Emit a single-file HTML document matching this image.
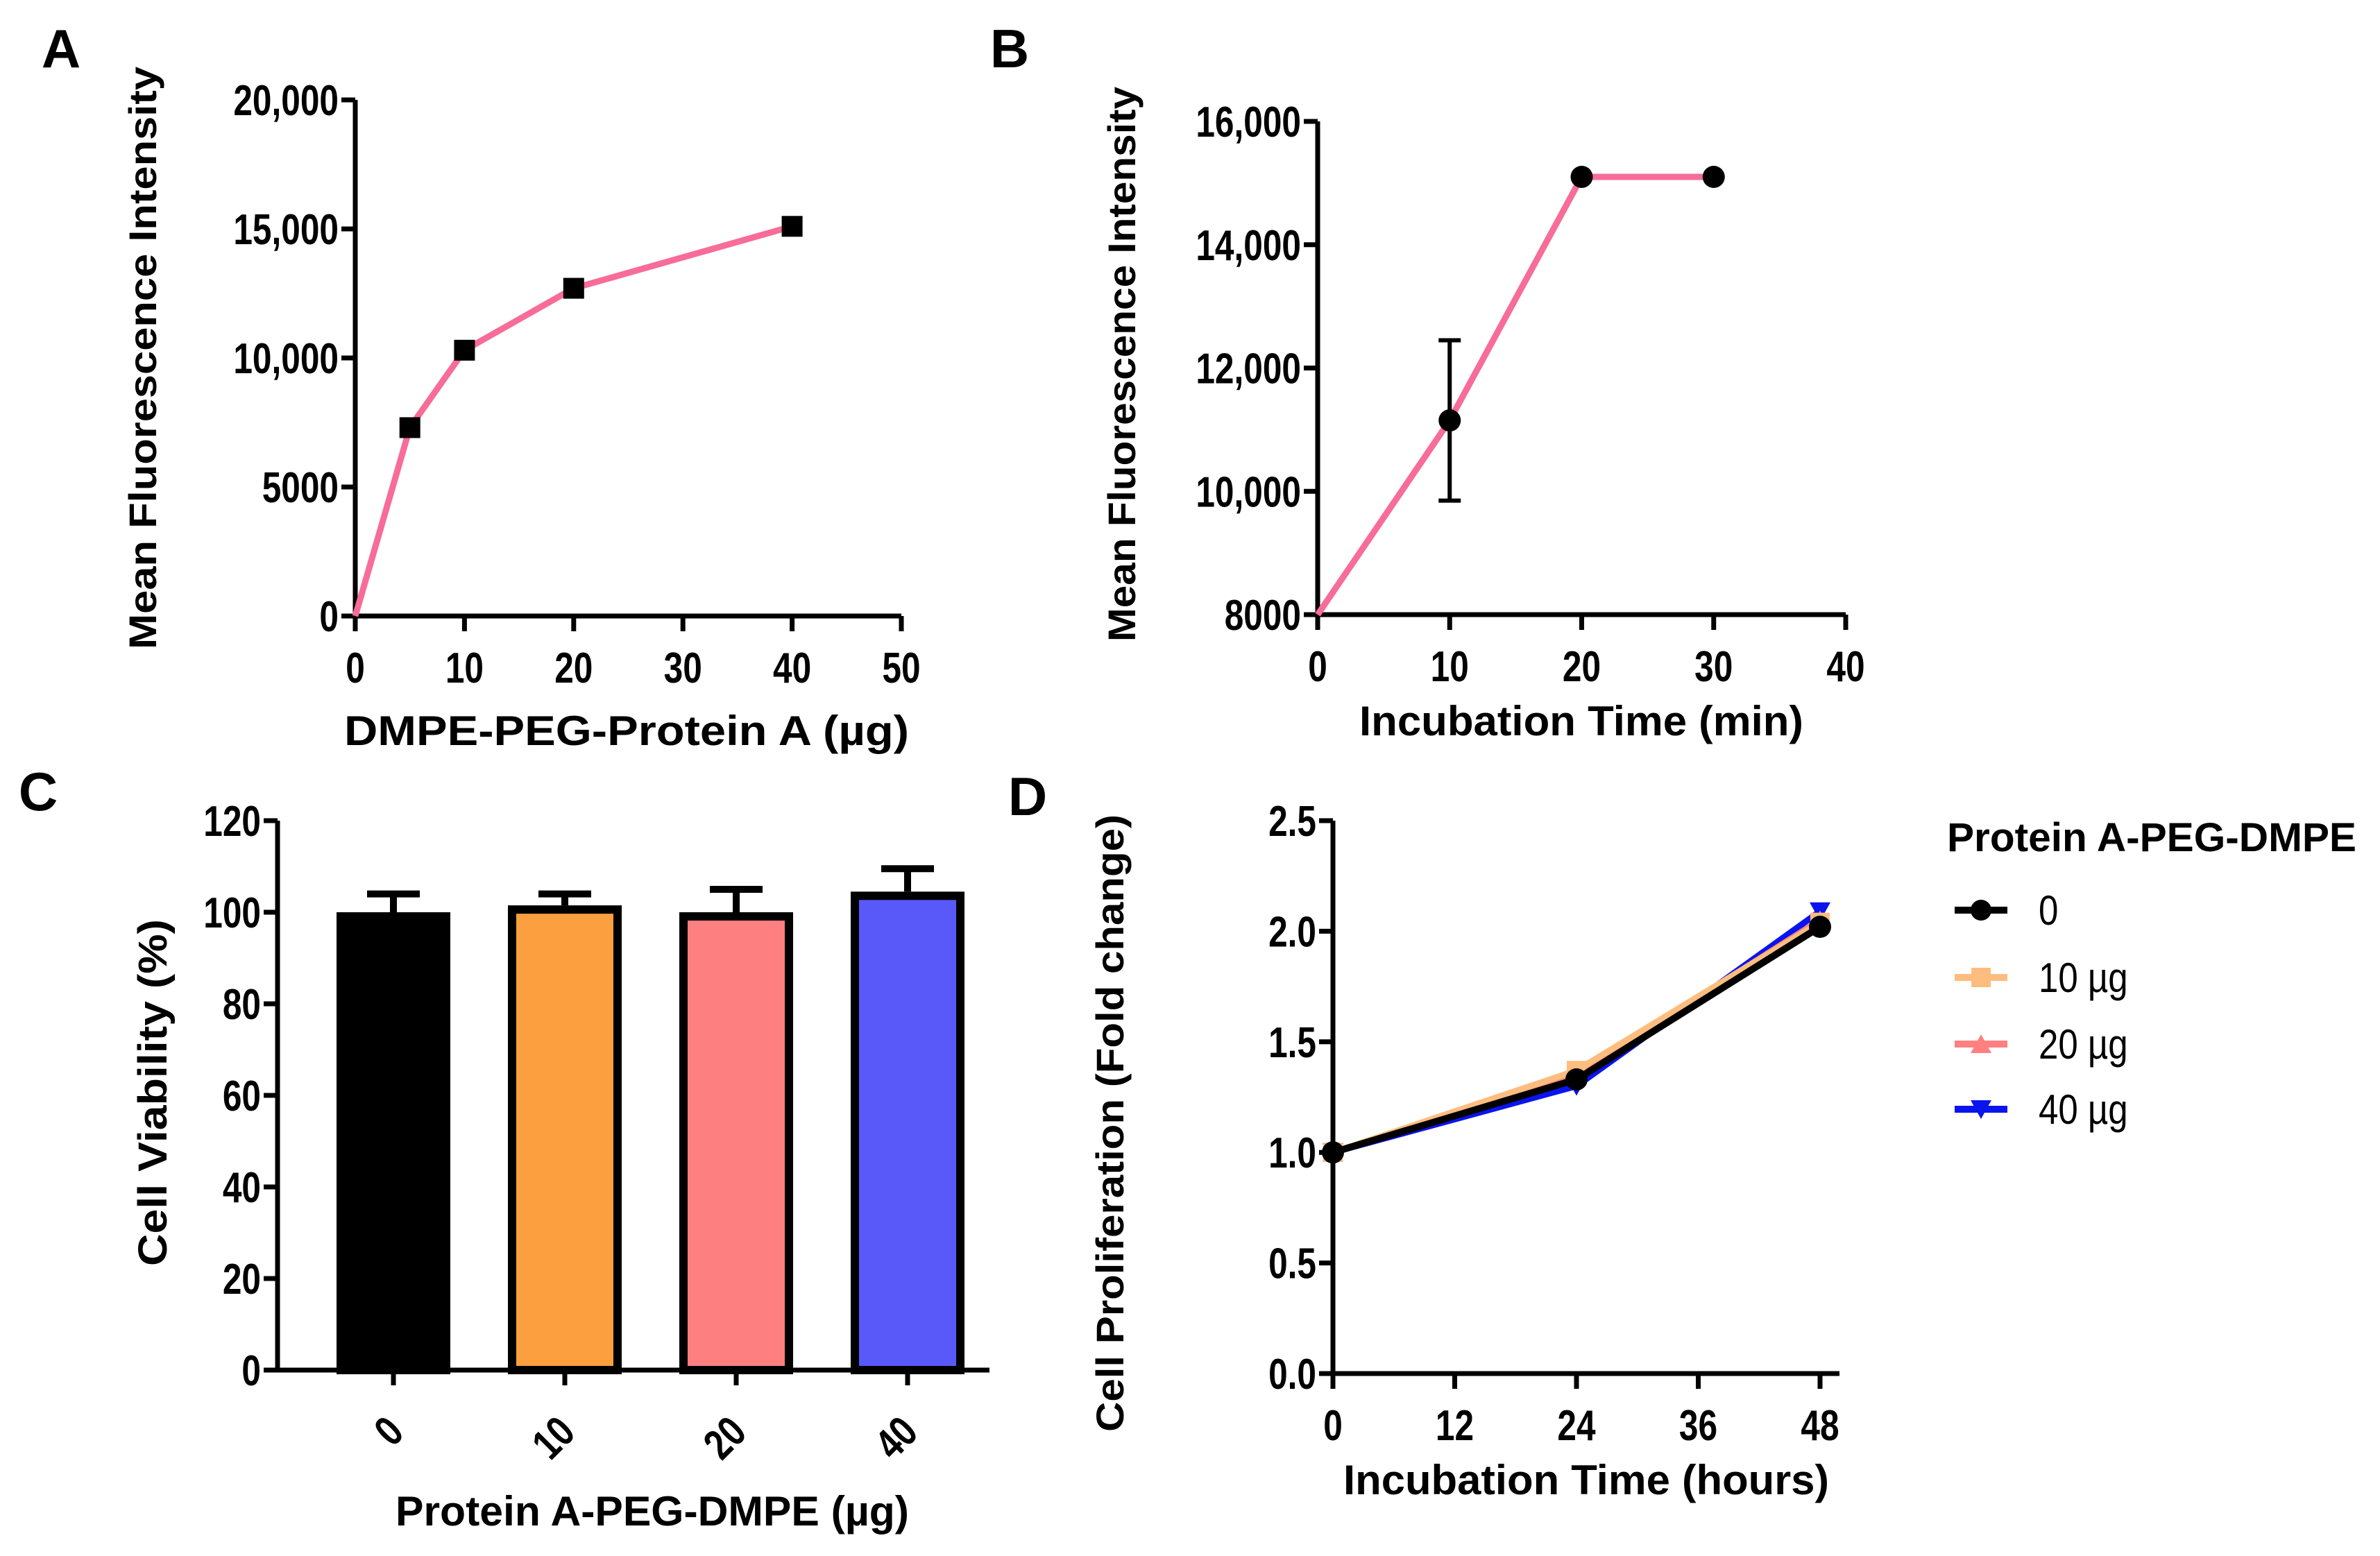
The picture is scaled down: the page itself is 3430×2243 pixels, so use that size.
<!DOCTYPE html>
<html><head><meta charset="utf-8"><style>
html,body{margin:0;padding:0;background:#fff;}
svg{display:block;font-family:"Liberation Sans",Arial,sans-serif;font-weight:bold;}
</style></head><body>
<svg id="fig" width="3430" height="2243" viewBox="0 0 3430 2243" xmlns="http://www.w3.org/2000/svg"></svg>
<script>
// Panel A data
const aX = [0, 5, 10, 20, 40];
const aY = [0, 7300, 10300, 12700, 15100];
const aXTicks = [0, 10, 20, 30, 40, 50];
const aYTicks = [0, 5000, 10000, 15000, 20000];
const aYTickLabels = ["0", "5000", "10,000", "15,000", "20,000"];
// Panel B data
const bX = [0, 10, 20, 30];
const bY = [8000, 11150, 15100, 15100];
const bErr = [0, 1300, 0, 0];
const bMarkers = [false, true, true, true];
const bXTicks = [0, 10, 20, 30, 40];
const bYTicks = [8000, 10000, 12000, 14000, 16000];
const bYTickLabels = ["8000", "10,000", "12,000", "14,000", "16,000"];
// Panel C data
const cCats = ["0", "10", "20", "40"];
const cVals = [100, 101.5, 100, 104.5];
const cErr = [4, 2.5, 5, 5];
const cColors = ["#000000", "#fb9f3f", "#fe7f7f", "#5959f9"];
const cYTicks = [0, 20, 40, 60, 80, 100, 120];
// Panel D data
const dX = [0, 24, 48];
const dSeriesNames = ["0", "10 µg", "20 µg", "40 µg"];
const dS0 = [1.0, 1.33, 2.02];
const dS10 = [1.0, 1.37, 2.04];
const dS20 = [1.0, 1.35, 2.05];
const dS40 = [1.0, 1.30, 2.09];
const dXTicks = [0, 12, 24, 36, 48];
const dYTicks = [0, 0.5, 1.0, 1.5, 2.0, 2.5];
const dYTickLabels = ["0.0", "0.5", "1.0", "1.5", "2.0", "2.5"];

const NS = "http://www.w3.org/2000/svg";
const svg = document.getElementById("fig");
function el(tag, attrs, parent, text) {
  const e = document.createElementNS(NS, tag);
  for (const k in attrs) e.setAttribute(k, attrs[k]);
  if (text !== undefined) e.textContent = text;
  (parent || svg).appendChild(e);
  return e;
}
function lin(d0, d1, r0, r1) { return v => r0 + (v - d0) * (r1 - r0) / (d1 - d0); }
const PINK = "#f76c98";
const TICKFS = 62;
const AXW = 7;

function label(x, y, txt, size, anchor, name, rot, len) {
  const a = {x: x, y: y, "font-size": size, "text-anchor": anchor || "middle", fill: "#000"};
  if (rot) a.transform = "rotate(" + rot + " " + x + " " + y + ")";
  if (len) { a.textLength = len; a.lengthAdjust = "spacingAndGlyphs"; }
  const t = el("text", a, svg, txt);
  
  
  return t;
}
function tlabel(x, y, txt, anchor, name, rot) {
  let tf = "translate(" + x + " " + y + ")";
  if (rot) tf += " rotate(" + rot + ")";
  tf += " scale(0.8 1)";
  const t = el("text", {x: 0, y: 0, "font-size": TICKFS, "text-anchor": anchor, fill: "#000", transform: tf}, svg, txt);
  
  
  return t;
}
function axes(x0, x1, y0, y1, name) {
  const g = el("g", {});
  
  
  el("line", {x1: x0, y1: y1, x2: x0, y2: y0 + 3, stroke: "#000", "stroke-width": AXW}, g);
  el("line", {x1: x0 - 3, y1: y0, x2: x1, y2: y0, stroke: "#000", "stroke-width": AXW}, g);
  return g;
}
function yTicks(ticks, labels, sy, x0, name) {
  ticks.forEach((t, i) => {
    const y = sy(t);
    const l = el("line", {x1: x0 - 20, y1: y, x2: x0, y2: y, stroke: "#000", "stroke-width": AXW});
    
    
    tlabel(x0 - 24, y + 22, labels[i], "end", name + "-tick-label");
  });
}
function xTicks(ticks, sx, y0, name, labels) {
  ticks.forEach((t, i) => {
    const x = sx(t);
    const l = el("line", {x1: x, y1: y0, x2: x, y2: y0 + 22, stroke: "#000", "stroke-width": AXW});
    
    
    tlabel(x, y0 + 96, labels ? labels[i] : String(t), "middle", name + "-tick-label");
  });
}

// ---------- Panel A ----------
label(88, 97, "A", 78, "middle", "panel-a-letter");
{
  const sx = lin(0, 50, 512, 1299), sy = lin(0, 20000, 888, 144);
  axes(512, 1299, 888, 144, "panel-a-axes");
  yTicks(aYTicks, aYTickLabels, sy, 512, "panel-a-y");
  xTicks(aXTicks, sx, 888, "panel-a-x");
  const p = el("polyline", {points: aX.map((v, i) => sx(v) + "," + sy(aY[i])).join(" "), fill: "none", stroke: PINK, "stroke-width": 9, "stroke-linejoin": "round"});
  
  
  aX.forEach((v, i) => {
    if (i === 0) return;
    const r = el("rect", {x: sx(v) - 15, y: sy(aY[i]) - 15, width: 30, height: 30, fill: "#000"});
    
    
  });
  label(225, 516, "Mean Fluorescence Intensity", 56, "middle", "panel-a-y-axis-title", -90, 840);
  label(903, 1074, "DMPE-PEG-Protein A  (µg)", 60, "middle", "panel-a-x-axis-title", 0, 814);
}

// ---------- Panel B ----------
label(1455, 97, "B", 78, "middle", "panel-b-letter");
{
  const sx = lin(0, 40, 1899, 2660), sy = lin(8000, 16000, 886, 175);
  axes(1899, 2660, 886, 175, "panel-b-axes");
  yTicks(bYTicks, bYTickLabels, sy, 1899, "panel-b-y");
  xTicks(bXTicks, sx, 886, "panel-b-x");
  const p = el("polyline", {points: bX.map((v, i) => sx(v) + "," + sy(bY[i])).join(" "), fill: "none", stroke: PINK, "stroke-width": 9, "stroke-linejoin": "round"});
  
  
  bX.forEach((v, i) => {
    const x = sx(v);
    if (bErr[i] > 0) {
      const g = el("g", {stroke: "#000", "stroke-width": 6});
      
      
      const yt = sy(bY[i] + bErr[i]), yb = sy(bY[i] - bErr[i]);
      el("line", {x1: x, y1: yt, x2: x, y2: yb}, g);
      el("line", {x1: x - 16, y1: yt, x2: x + 16, y2: yt}, g);
      el("line", {x1: x - 16, y1: yb, x2: x + 16, y2: yb}, g);
    }
    if (bMarkers[i]) {
      const c = el("circle", {cx: x, cy: sy(bY[i]), r: 16, fill: "#000"});
      
      
    }
  });
  label(1636, 525, "Mean Fluorescence Intensity", 56, "middle", "panel-b-y-axis-title", -90, 800);
  label(2279, 1060, "Incubation Time  (min)", 60, "middle", "panel-b-x-axis-title", 0, 640);
}

// ---------- Panel C ----------
label(55, 1168, "C", 78, "middle", "panel-c-letter");
{
  const sy = lin(0, 120, 1975, 1183);
  const cx0 = 567, step = 247, bw = 164;
  axes(400, 1426, 1975, 1183, "panel-c-axes");
  yTicks(cYTicks, cYTicks.map(String), sy, 400, "panel-c-y");
  cCats.forEach((c, i) => {
    const x = cx0 + i * step;
    const top = sy(cVals[i]);
    const eb = el("g", {stroke: "#000", "stroke-width": 10});
    
    
    const ye = sy(cVals[i] + cErr[i]);
    el("line", {x1: x, y1: top, x2: x, y2: ye}, eb);
    el("line", {x1: x - 38, y1: ye, x2: x + 38, y2: ye}, eb);
    const r = el("rect", {x: x - bw / 2 + 6, y: top + 6, width: bw - 12, height: 1975 - top - 6, fill: cColors[i], stroke: "#000", "stroke-width": 12});
    
    
    const t = el("line", {x1: x, y1: 1975, x2: x, y2: 1997, stroke: "#000", "stroke-width": AXW});
    
    
    tlabel(x + 18, 2068, c, "end", "panel-c-x-tick-label", -45);
  });
  label(240, 1575, "Cell Viability (%)", 58, "middle", "panel-c-y-axis-title", -90, 500);
  label(940, 2199, "Protein A-PEG-DMPE  (µg)", 60, "middle", "panel-c-x-axis-title", 0, 740);
}

// ---------- Panel D ----------
label(1481, 1175, "D", 78, "middle", "panel-d-letter");
{
  const sx = lin(0, 48, 1921, 2623), sy = lin(0, 2.5, 1980, 1183);
  axes(1921, 2651, 1980, 1183, "panel-d-axes");
  yTicks(dYTicks, dYTickLabels, sy, 1921, "panel-d-y");
  xTicks(dXTicks, sx, 1980, "panel-d-x");
  const series = [dS40, dS20, dS10, dS0];
  const cols = ["#0a14ee", "#fe8080", "#fdbd7f", "#000000"];
  const names = ["40", "20", "10", "0"];
  series.forEach((s, k) => {
    const g = el("g", {});
    
    
    el("polyline", {points: dX.map((v, i) => sx(v) + "," + sy(s[i])).join(" "), fill: "none", stroke: cols[k], "stroke-width": k === 3 ? 10 : 9, "stroke-linejoin": "round"}, g);
    dX.forEach((v, i) => {
      const x = sx(v), y = sy(s[i]);
      if (k === 0) el("polygon", {points: (x - 15) + "," + (y - 13) + " " + (x + 15) + "," + (y - 13) + " " + x + "," + (y + 14), fill: cols[k]}, g);
      else if (k === 1) el("polygon", {points: (x - 15) + "," + (y + 13) + " " + (x + 15) + "," + (y + 13) + " " + x + "," + (y - 14), fill: cols[k]}, g);
      else if (k === 2) el("rect", {x: x - 14, y: y - 14, width: 28, height: 28, fill: cols[k]}, g);
      else el("circle", {cx: x, cy: y, r: 16, fill: cols[k]}, g);
    });
  });
  label(1619, 1619, "Cell Proliferation   (Fold change)", 56, "middle", "panel-d-y-axis-title", -90, 890);
  label(2286, 2154, "Incubation Time  (hours)", 60, "middle", "panel-d-x-axis-title", 0, 700);
  // legend
  const lg = el("g", {});
  
  
  const t = el("text", {x: 2806, y: 1227, "font-size": 58, fill: "#000", textLength: 590, lengthAdjust: "spacingAndGlyphs"}, lg, "Protein A-PEG-DMPE");
  
  
  const lcols = ["#000000", "#fdbd7f", "#fe8080", "#0a14ee"];
  const ly = [1312, 1409, 1505, 1599];
  dSeriesNames.forEach((n, i) => {
    const e = el("g", {}, lg);
    
    
    const y = ly[i], x = 2855;
    el("line", {x1: 2817, y1: y, x2: 2893, y2: y, stroke: lcols[i], "stroke-width": 10}, e);
    if (i === 0) el("circle", {cx: x, cy: y, r: 15, fill: lcols[i]}, e);
    else if (i === 1) el("rect", {x: x - 14, y: y - 14, width: 28, height: 28, fill: lcols[i]}, e);
    else if (i === 2) el("polygon", {points: (x - 15) + "," + (y + 13) + " " + (x + 15) + "," + (y + 13) + " " + x + "," + (y - 14), fill: lcols[i]}, e);
    else el("polygon", {points: (x - 15) + "," + (y - 13) + " " + (x + 15) + "," + (y - 13) + " " + x + "," + (y + 14), fill: lcols[i]}, e);
    el("text", {x: 2938, y: y + 21, "font-size": 60, "font-weight": "normal", fill: "#000", transform: "translate(" + (2938 * 0.15) + " 0) scale(0.85 1)"}, e, n);
  });
}
</script>
</body></html>
